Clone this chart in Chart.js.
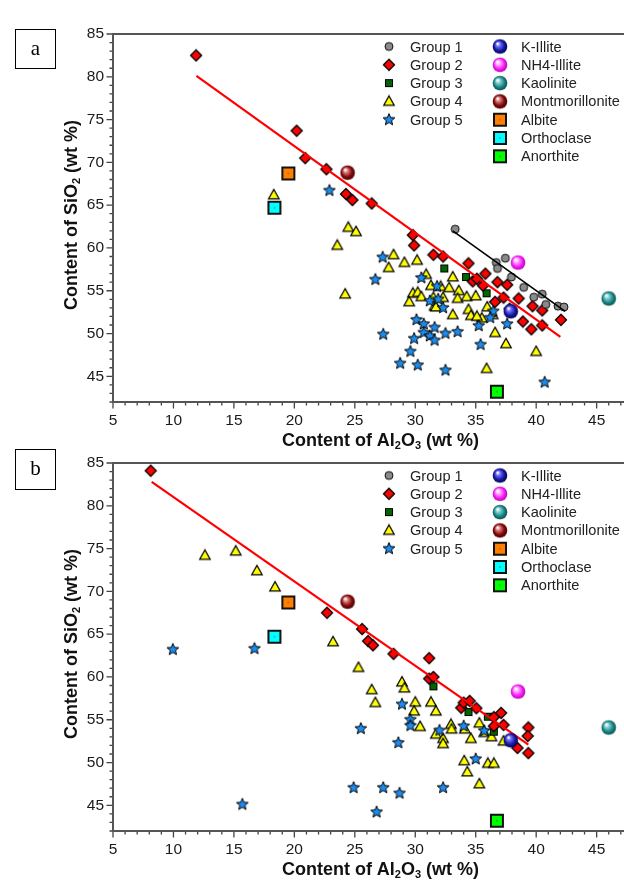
<!DOCTYPE html>
<html>
<head>
<meta charset="utf-8">
<script src="https://cdn.jsdelivr.net/npm/chart.js@4.4.0/dist/chart.umd.min.js"></script>
<style>
  body { margin: 0; background: #fff; overflow: hidden; width: 624px; height: 881px; position: relative; }
  .panel { position: absolute; left: 0; }
  #pa { top: 0; }
  #pb { top: 429px; }
</style>
</head>
<body>
<div class="panel" id="pa"><canvas id="chartA" width="652" height="452"></canvas></div>
<div class="panel" id="pb"><canvas id="chartB" width="652" height="452"></canvas></div>
<script>
// ---- data: [Al2O3, SiO2] in wt % ----
const group1A = [[33.3,62.2],[37.45,58.8],[36.7,58.3],[36.8,57.6],[37.95,56.6],[38.97,55.4],[39.8,54.25],[40.5,54.6],[40.8,53.4],[41.8,53.2],[42.3,53.1]];
const group2A = [[11.87,82.5],[20.19,73.7],[20.9,70.5],[22.65,69.2],[24.27,66.3],[24.8,65.6],[26.4,65.2],[29.8,61.5],[29.9,60.3],[31.5,59.2],[32.3,59.0],[34.4,58.2],[35.8,57.0],[34.75,56.1],[35.1,56.4],[35.6,55.6],[36.8,56.0],[37.6,55.7],[36.6,53.7],[37.3,54.2],[38.55,54.1],[39.7,53.2],[40.5,52.7],[38.9,51.4],[39.6,50.5],[40.5,50.95],[42.05,51.6],[37.8,52.9]];
const group3A = [[32.4,57.6],[34.2,56.6],[35.9,54.7]];
const group4A = [[18.3,66.2],[24.46,62.4],[25.1,61.9],[23.55,60.3],[28.2,59.2],[29.1,58.3],[30.15,58.55],[27.8,57.7],[24.2,54.6],[30.9,56.9],[31.3,55.6],[29.8,54.7],[30.2,54.8],[29.5,53.7],[30.5,54.3],[31.6,53.2],[33.1,56.6],[32.1,55.5],[32.8,55.35],[33.6,55.0],[31.5,54.2],[32.3,54.2],[33.5,54.1],[34.25,54.3],[35.0,54.4],[31.7,53.1],[33.1,52.2],[34.4,52.8],[34.6,52.1],[35.5,51.8],[35.95,53.1],[36.4,52.2],[35.1,52.0],[36.6,50.1],[37.5,48.8],[40.0,47.9],[35.9,45.9]];
const group5A = [[22.9,66.7],[27.3,58.9],[26.7,56.3],[30.5,56.5],[27.35,49.9],[30.1,51.6],[30.7,51.1],[29.9,49.4],[30.7,50.1],[31.2,49.7],[31.6,49.2],[31.6,50.7],[29.6,47.9],[28.75,46.5],[30.2,46.3],[31.2,53.8],[31.8,55.5],[31.9,54.0],[32.3,53.0],[32.5,50.0],[33.5,50.2],[35.25,50.9],[36.45,52.6],[36.2,51.85],[37.6,51.1],[35.4,48.7],[32.5,45.7],[40.7,44.3]];

const group2B = [[8.12,84.1],[22.7,67.5],[25.6,65.6],[26.1,64.2],[26.5,63.7],[28.2,62.7],[31.15,62.2],[31.15,59.8],[31.5,60.0],[33.8,56.4],[34.0,57.0],[34.5,57.2],[35.05,56.35],[37.1,55.8],[36.5,55.3],[37.3,54.4],[39.35,54.1],[39.3,53.1],[38.45,51.7],[39.35,51.1],[36.5,54.25]];
const group3B = [[31.5,58.9],[34.4,55.9],[36.0,55.35],[36.5,53.6]];
const group4B = [[12.6,74.2],[15.15,74.7],[16.9,72.4],[18.4,70.5],[23.2,64.1],[25.3,61.1],[26.4,58.5],[26.7,57.0],[28.9,59.4],[29.1,58.7],[30.0,57.05],[29.9,56.0],[30.4,54.2],[31.3,57.05],[31.7,56.0],[31.7,53.3],[32.3,52.8],[32.3,52.2],[32.95,54.45],[33.0,53.9],[34.1,53.9],[34.6,52.8],[35.3,54.6],[35.7,53.5],[36.3,53.0],[34.05,50.2],[34.3,48.9],[35.3,47.5],[36.0,49.9],[36.5,49.9],[37.3,52.5]];
const group5B = [[9.95,63.2],[16.7,63.3],[15.7,45.1],[28.9,56.8],[25.5,53.95],[29.6,55.0],[29.6,54.3],[28.6,52.3],[32.0,53.75],[34.0,54.25],[35.7,53.7],[35.0,50.4],[24.9,47.05],[27.35,47.05],[28.7,46.4],[32.3,47.05],[26.8,44.2]];

const mineralNames = ['K-Illite', 'NH4-Illite', 'Kaolinite', 'Montmorillonite', 'Albite', 'Orthoclase', 'Anorthite'];
const mineralAl = [37.9, 38.5, 46.0, 24.4, 19.5, 18.35, 36.75];
const mineralSi = [52.6, 58.3, 54.1, 68.8, 68.7, 64.7, 43.2];

// fitted trend lines (end points)
const fitRedA = [[11.9,80.1],[42.0,49.6]];
const fitBlackA = [[33.1,62.0],[42.4,52.6]];
const fitRedB = [[8.2,82.8],[39.35,52.1]];

const xTicks = [5, 10, 15, 20, 25, 30, 35, 40, 45];
const yTicks = [45, 50, 55, 60, 65, 70, 75, 80, 85];

const FONT = '"Liberation Sans", Arial, sans-serif';

// ---- marker images ----
function makeImg(size, draw) {
  let c = document.createElement('canvas');
  c.width = size; c.height = size;
  let g = c.getContext('2d');
  g.translate(size / 2, size / 2);
  draw(g);
  return c;
}

let circleImg = makeImg(12, g => {
  g.beginPath(); g.arc(0, 0, 4, 0, Math.PI * 2);
  g.fillStyle = '#8a8a8a'; g.fill();
  g.lineWidth = 1; g.strokeStyle = '#111'; g.stroke();
});
let diamondImg = makeImg(14, g => {
  g.beginPath(); g.moveTo(0, -5.5); g.lineTo(5.5, 0); g.lineTo(0, 5.5); g.lineTo(-5.5, 0); g.closePath();
  g.fillStyle = '#ff0000'; g.fill();
  g.lineWidth = 1.3; g.strokeStyle = '#000'; g.stroke();
});
let squareImg = makeImg(10, g => {
  g.fillStyle = '#006400'; g.fillRect(-3.5, -3.5, 7, 7);
  g.lineWidth = 1; g.strokeStyle = '#000'; g.strokeRect(-3.5, -3.5, 7, 7);
});
let triangleImg = makeImg(14, g => {
  g.beginPath(); g.moveTo(0, -5.5); g.lineTo(5.2, 3.8); g.lineTo(-5.2, 3.8); g.closePath();
  g.fillStyle = '#ffff00'; g.fill();
  g.lineWidth = 1.3; g.strokeStyle = '#000'; g.stroke();
});
let starImg = makeImg(16, g => {
  g.beginPath();
  for (let i = 0; i < 10; i++) {
    let r = i % 2 === 0 ? 6.2 : 2.7;
    let a = -Math.PI / 2 + i * Math.PI / 5;
    if (i === 0) g.moveTo(r * Math.cos(a), r * Math.sin(a));
    else g.lineTo(r * Math.cos(a), r * Math.sin(a));
  }
  g.closePath();
  g.fillStyle = '#1a8cf0'; g.fill();
  g.lineWidth = 1; g.strokeStyle = '#000'; g.stroke();
});

function sphereImg(light, base, dark) {
  return makeImg(18, g => {
    let grad = g.createRadialGradient(-2.5, -3, 0.5, 0, 0, 7.5);
    grad.addColorStop(0, '#ffffff');
    grad.addColorStop(0.25, light);
    grad.addColorStop(0.65, base);
    grad.addColorStop(1, dark);
    g.beginPath(); g.arc(0, 0, 7.3, 0, Math.PI * 2);
    g.fillStyle = grad; g.fill();
  });
}
function boxImg(fill) {
  return makeImg(16, g => {
    g.fillStyle = fill; g.fillRect(-6, -6, 12, 12);
    g.lineWidth = 2; g.strokeStyle = '#111'; g.strokeRect(-6, -6, 12, 12);
    g.fillStyle = '#333'; g.fillRect(-0.5, -0.5, 1, 1);
  });
}

const mineralImgs = [
  sphereImg('#7070ff', '#1a1aa8', '#000048'),
  sphereImg('#ffb0ff', '#ff20ff', '#b000b0'),
  sphereImg('#8ad0d0', '#1a8c8c', '#0a4848'),
  sphereImg('#d88080', '#8c0a0a', '#400000'),
  boxImg('#ff8000'),
  boxImg('#00ffff'),
  boxImg('#00ff00')
];

function pts(arr) {
  return arr.map(p => ({ x: p[0], y: p[1] }));
}

function pointSet(label, arr, img, order) {
  return { label: label, data: pts(arr), pointStyle: img, pointRadius: 6, order: order, showLine: false, legendImg: img };
}
function lineSet(arr, color, width) {
  return { label: '', data: pts(arr), showLine: true, borderColor: color, borderWidth: width, pointRadius: 0, order: 1, fill: false };
}

function buildSets(g1, g2, g3, g4, g5, lines) {
  let sets = [
    pointSet('Group 1', g1, circleImg, 2),
    pointSet('Group 2', g2, diamondImg, 2),
    pointSet('Group 3', g3, squareImg, 3),
    pointSet('Group 4', g4, triangleImg, 5),
    pointSet('Group 5', g5, starImg, 4)
  ];
  for (let i = 0; i < mineralNames.length; i++) {
    sets.push(pointSet(mineralNames[i], [[mineralAl[i], mineralSi[i]]], mineralImgs[i], 0));
  }
  return sets.concat(lines);
}

// draws frame, minor/major ticks, axis titles with subscripts, legend and panel letter
const decorPlugin = {
  id: 'decor',
  afterDraw(chart, args, opts) {
    let ctx = chart.ctx;
    let a = chart.chartArea;
    let xs = chart.scales.x, ys = chart.scales.y;
    ctx.save();

    // ticks
    ctx.strokeStyle = '#444';
    ctx.lineWidth = 1.3;
    ctx.beginPath();
    for (let v = Math.ceil(xs.min); v <= xs.max; v++) {
      let px = xs.getPixelForValue(v);
      let len = v % 5 === 0 ? 6.5 : 3.5;
      ctx.moveTo(px, a.bottom); ctx.lineTo(px, a.bottom + len);
    }
    for (let v = Math.ceil(ys.min); v <= ys.max; v++) {
      let py = ys.getPixelForValue(v);
      let len = v % 5 === 0 ? 6.5 : 3.5;
      ctx.moveTo(a.left, py); ctx.lineTo(a.left - len, py);
    }
    ctx.stroke();

    // frame
    ctx.strokeStyle = '#555';
    ctx.lineWidth = 2;
    ctx.strokeRect(a.left, a.top, a.right - a.left, a.bottom - a.top);

    // axis titles
    ctx.fillStyle = '#111';
    ctx.textBaseline = 'middle';
    drawParts(ctx, [['Content of Al', 0], ['2', 1], ['O', 0], ['3', 1], [' (wt %)', 0]], 380.5, a.bottom + 39);
    ctx.save();
    ctx.translate(72, a.top + 181);
    ctx.rotate(-Math.PI / 2);
    drawParts(ctx, [['Content of SiO', 0], ['2', 1], [' (wt %)', 0]], 0, 0);
    ctx.restore();

    // legend
    ctx.font = '14.6px ' + FONT;
    ctx.textAlign = 'left';
    ctx.fillStyle = '#222';
    let items = chart.data.datasets.filter(d => d.legendImg);
    items.forEach((d, i) => {
      let col = i < 5 ? 0 : 1;
      let row = i < 5 ? i : i - 5;
      let mx = a.left + (col === 0 ? 276 : 387);
      let my = a.top + 12.5 + row * 18.3;
      let img = d.legendImg;
      ctx.drawImage(img, mx - img.width / 2, my - img.height / 2);
      ctx.fillText(d.label, mx + 21, my + 1);
    });

    // panel letter
    let b = opts.box;
    ctx.strokeStyle = '#000';
    ctx.lineWidth = 1;
    ctx.strokeRect(b[0], b[1], b[2], b[3]);
    ctx.font = '21px "Liberation Serif", "Times New Roman", serif';
    ctx.textAlign = 'center';
    ctx.fillStyle = '#000';
    ctx.fillText(opts.letter, b[0] + b[2] / 2, b[1] + b[3] / 2);

    ctx.restore();
  }
};

function drawParts(ctx, parts, cx, cy) {
  let big = 'bold 18px ' + FONT, small = 'bold 11px ' + FONT;
  let total = 0;
  parts.forEach(p => { ctx.font = p[1] ? small : big; total += ctx.measureText(p[0]).width; });
  let x = cx - total / 2;
  ctx.textAlign = 'left';
  parts.forEach(p => {
    ctx.font = p[1] ? small : big;
    ctx.fillText(p[0], x, cy + (p[1] ? 5 : 0));
    x += ctx.measureText(p[0]).width;
  });
}

function makeChart(id, datasets, letter, box) {
  return new Chart(document.getElementById(id), {
    type: 'scatter',
    data: { datasets: datasets },
    options: {
      responsive: false,
      animation: false,
      events: [],
      layout: { padding: { top: 34, right: 3, left: 0, bottom: 0 } },
      plugins: {
        legend: { display: false },
        tooltip: { enabled: false },
        decor: { letter: letter, box: box }
      },
      scales: {
        x: {
          type: 'linear', min: 5, max: 49,
          afterFit(scale) { scale.height = 50; },
          afterBuildTicks(scale) { scale.ticks = xTicks.map(v => ({ value: v })); },
          grid: { display: false },
          border: { display: false },
          ticks: { autoSkip: false, maxRotation: 0, padding: 1, color: '#1a1a1a', font: { family: FONT, size: 15.5 } }
        },
        y: {
          type: 'linear', min: 42, max: 85,
          afterFit(scale) { scale.width = 113; },
          afterBuildTicks(scale) { scale.ticks = yTicks.map(v => ({ value: v })); },
          grid: { display: false },
          border: { display: false },
          ticks: { autoSkip: false, padding: 1, color: '#1a1a1a', font: { family: FONT, size: 15.5 } }
        }
      }
    },
    plugins: [decorPlugin]
  });
}

makeChart('chartA', buildSets(group1A, group2A, group3A, group4A, group5A, [
  lineSet(fitRedA, '#ff0000', 2.2),
  lineSet(fitBlackA, '#000000', 1.6)
]), 'a', [15.5, 29.5, 40, 39]);

makeChart('chartB', buildSets([], group2B, group3B, group4B, group5B, [
  lineSet(fitRedB, '#ff0000', 2.2)
]), 'b', [15.5, 20.5, 40, 40]);
</script>
</body>
</html>
